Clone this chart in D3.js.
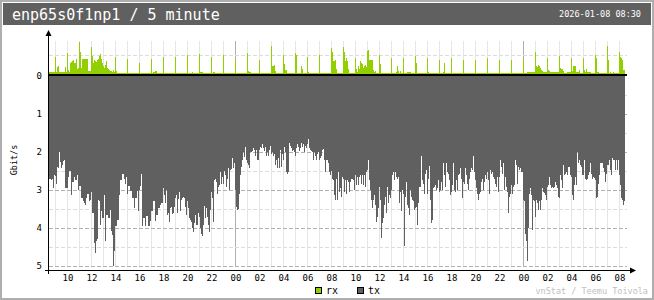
<!DOCTYPE html>
<html>
<head>
<meta charset="utf-8">
<script src="https://cdn.jsdelivr.net/npm/d3@7"></script>
<style>
  body { margin: 0; background: #fff; }
  svg { display: block; }
  text { font-family: "DejaVu Sans Mono", monospace; }
</style>
</head>
<body>
<div id="chart"></div>
<script>
// ---- data ----
const ifaceName = "enp65s0f1np1";
const graphName = "5 minute";
const stampText = "2026-01-08 08:30";
const footerText = "vnStat / Teemu Toivola";
const unitLabel = "Gbit/s";
const legendKeys = ["rx", "tx"];
const yTickValues = [0, 1, 2, 3, 4, 5];
const firstSlot = new Date(2026, 0, 6, 8, 30);   // one row below = one hour of 5 min slots
const slotMinutes = 5;

// rx, Gbit/s (drawn upward)
const rx = [
  .05,.05,.05,.05,.05,.05,.45,.05,.18,.2,.05,.06,
  .05,.05,.05,.05,.19,.05,.54,.1,.05,.3,.32,.34,
  .37,.28,.3,.39,.13,.15,.83,.59,.15,.39,.4,.4,
  .4,.4,.4,.07,.07,.07,.7,.48,.28,.37,.34,.32,
  .37,.4,.48,.53,.39,.3,.21,.15,.24,.34,.15,.12,
  .1,.08,.07,.05,.1,.05,.45,.08,.03,.03,.03,.015,
  .015,.015,.015,.015,.015,.015,.39,.015,.015,.015,.015,.03,
  .03,.03,.015,.015,.015,.015,.28,.015,.015,.015,.015,.015,
  .015,.015,.015,.015,.015,.015,.39,.015,.05,.05,.07,.07,
  .015,.015,.015,.015,.015,.015,.45,.015,.015,.015,.015,.015,
  .015,.03,.03,.03,.03,.015,.45,.015,.015,.015,.015,.015,
  .015,.015,.015,.015,.015,.015,.5,.03,.015,.015,.015,.05,
  .015,.015,.015,.015,.015,.015,.53,.05,.05,.05,.015,.015,
  .015,.015,.015,.015,.015,.015,.44,.03,.05,.05,.015,.015,
  .015,.03,.015,.015,.015,.015,.5,.03,.015,.015,.015,.015,
  .015,.015,.015,.015,.015,.015,.38,.03,.015,.015,.015,.015,
  .015,.015,.015,.015,.015,.015,.54,.08,.05,.06,.015,.015,
  .015,.015,.015,.015,.015,.015,.38,.03,.015,.015,.03,.015,
  .015,.015,.015,.015,.015,.015,.73,.2,.2,.24,.07,.015,
  .015,.015,.015,.015,.015,.015,.5,.27,.1,.1,.015,.015,
  .015,.015,.015,.015,.015,.015,.54,.51,.015,.015,.015,.015,
  .22,.13,.015,.015,.015,.015,.45,.05,.015,.015,.015,.015,
  .015,.015,.015,.015,.015,.015,.5,.015,.015,.03,.03,.015,
  .015,.015,.015,.015,.015,.015,.68,.57,.35,.34,.36,.12,
  .015,.015,.015,.015,.015,.015,.7,.59,.34,.41,.34,.12,
  .015,.015,.015,.015,.015,.015,.41,.12,.05,.2,.12,.34,
  .28,.27,.16,.2,.24,.18,.6,.62,.38,.38,.38,.38,
  .1,.05,.08,.03,.03,.03,.51,.27,.03,.03,.03,.03,
  .03,.03,.03,.03,.03,.03,.41,.015,.015,.015,.015,.06,
  .2,.08,.03,.08,.015,.015,.41,.015,.015,.015,.05,.05,
  .05,.05,.015,.015,.015,.015,.48,.3,.015,.015,.015,.015,
  .015,.015,.015,.015,.015,.015,.41,.05,.015,.015,.015,.015,
  .015,.015,.015,.015,.015,.015,.38,.015,.015,.015,.05,.28,
  .03,.03,.015,.015,.015,.015,.41,.015,.015,.015,.015,.015,
  .015,.015,.015,.015,.015,.015,.38,.015,.015,.015,.015,.015,
  .015,.03,.015,.015,.015,.015,.38,.03,.03,.03,.03,.03,
  .03,.03,.015,.015,.015,.015,.41,.015,.015,.015,.015,.015,
  .015,.015,.015,.015,.015,.015,.38,.03,.03,.015,.015,.015,
  .015,.015,.015,.015,.015,.015,.38,.03,.03,.03,.015,.015,
  .015,.015,.015,.015,.015,.015,.41,.015,.015,.015,.05,.05,
  .05,.05,.05,.05,.05,.05,.57,.2,.18,.24,.22,.15,
  .1,.08,.05,.05,.05,.05,.41,.1,.08,.05,.05,.05,
  .05,.05,.05,.05,.05,.05,.47,.15,.13,.12,.08,.015,
  .015,.015,.05,.05,.05,.05,.41,.08,.21,.21,.21,.05,
  .05,.05,.1,.015,.015,.015,.42,.1,.05,.12,.05,.05,
  .05,.05,.015,.015,.015,.015,.51,.42,.05,.05,.03,.03,
  .015,.015,.015,.015,.015,.015,.73,.36,.015,.05,.015,.015,
  .05,.03,.03,.03,.03,.03,.57,.45,.42,.37,.11,.11
];

// tx, Gbit/s (drawn downward)
const tx = [
  2.72,2.70,2.74,2.72,2.96,2.6,2.62,2.83,2.4,2.42,2.0,2.25,
  2.43,2.35,2.23,2.2,2.96,2.96,2.96,2.65,2.5,2.5,3.13,2.78,
  2.78,2.65,2.74,2.74,2.6,3.0,2.9,2.9,3.2,3.2,3.3,3.35,
  3.4,3.2,3.1,3.1,3.3,3.25,3.05,3.6,3.6,4.4,4.66,4.35,
  4.3,3.26,3.3,3.92,3.56,3.74,3.74,3.13,4.35,3.66,3.66,3.74,
  3.74,3.53,4.08,4.18,5.0,4.6,3.95,3.95,3.79,3.79,3.13,2.74,
  2.74,2.57,2.57,2.7,2.83,2.65,3.1,2.9,2.9,3.03,3.03,3.2,
  3.2,3.48,3.2,3.2,3.03,3.56,3.0,2.9,2.57,3.95,3.74,3.74,
  3.95,3.69,3.69,3.95,3.95,3.82,3.56,3.56,3.3,3.3,3.82,3.66,
  3.66,3.48,3.48,3.4,3.35,3.35,2.94,3.13,3.35,3.0,3.66,3.6,
  3.85,3.48,3.45,3.62,3.6,3.44,3.22,3.12,3.6,3.24,3.05,3.56,
  3.26,3.22,3.18,3.22,3.44,3.66,3.3,3.48,3.74,3.79,3.83,4.0,
  4.1,3.88,3.66,3.92,3.92,3.6,3.7,4.0,4.16,4.2,3.92,3.42,
  3.73,3.48,3.7,3.92,4.1,3.52,3.05,3.22,3.83,2.74,2.7,2.78,
  3.1,2.92,2.87,2.52,2.83,2.65,2.83,2.5,2.6,2.92,2.7,2.43,
  3.0,2.48,2.45,2.15,2.43,2.3,3.0,3.45,3.52,3.5,3.1,2.6,
  2.4,2.2,2.0,2.13,1.87,2.22,2.3,2.35,2.43,2.0,2.0,1.98,
  1.9,1.94,2.1,1.94,2.2,2.22,1.94,1.87,1.9,1.79,1.9,1.98,
  1.87,2.1,2.0,2.1,1.94,1.83,2.05,2.0,2.1,2.05,2.35,2.2,
  2.43,2.15,2.43,1.94,2.4,2.05,2.22,1.88,2.0,2.52,2.57,2.52,
  1.76,1.83,1.9,1.98,1.94,2.0,2.1,1.9,1.79,1.87,1.98,1.9,
  1.75,1.87,1.79,2.0,1.83,1.9,1.8,1.65,1.9,1.96,1.98,2.0,
  2.2,2.0,2.1,2.22,2.05,2.0,2.22,2.15,2.1,1.94,1.92,2.22,
  2.52,2.2,2.22,2.3,2.52,2.6,2.5,2.7,2.74,3.13,3.26,2.7,
  3.26,2.52,3.05,2.96,3.18,2.65,2.7,3.05,2.74,3.1,2.74,2.78,
  3.05,2.78,2.7,2.7,2.74,3.0,2.6,2.87,2.65,2.87,2.65,2.6,
  2.83,2.6,2.87,2.6,2.92,2.52,2.48,2.2,2.74,3.0,3.26,3.48,
  3.26,3.13,3.4,3.83,3.7,3.48,2.92,3.26,4.27,3.88,3.74,3.4,
  3.18,3.6,2.92,3.35,3.13,3.22,3.0,2.6,2.52,2.74,2.52,2.65,
  2.7,2.65,3.35,3.05,3.56,3.0,3.1,4.48,3.18,2.78,3.4,3.48,
  3.66,3.0,3.18,3.26,3.3,3.52,3.48,3.44,3.92,3.35,2.92,2.92,
  2.1,2.74,2.83,3.1,2.57,2.47,3.1,2.7,2.37,3.26,3.88,3.79,
  2.96,2.92,2.87,3.0,2.96,2.74,3.05,3.0,2.78,3.0,2.3,2.6,
  2.92,2.3,2.52,2.57,2.74,3.13,3.05,2.87,2.3,3.0,3.05,2.74,
  3.0,2.6,2.57,2.43,2.7,3.22,2.78,2.83,2.43,2.6,2.83,3.0,
  2.7,2.52,2.43,2.48,2.1,2.52,2.74,2.96,3.1,3.26,3.1,3.05,
  2.78,2.7,3.0,2.78,2.6,2.7,2.52,2.74,3.1,2.48,2.57,2.52,
  2.65,2.7,2.83,2.92,2.65,3.05,2.65,2.2,2.4,2.57,2.3,3.0,
  2.65,2.92,3.05,3.6,3.18,3.1,2.87,3.1,2.92,2.87,2.22,2.35,
  2.83,2.4,2.48,2.43,2.52,2.52,3.26,3.3,4.16,4.35,4.86,4.0,
  3.1,2.96,3.13,4.04,3.26,3.3,3.7,3.26,3.35,3.52,3.3,3.52,
  3.26,2.94,3.05,3.07,3.13,3.26,2.92,2.87,2.65,2.87,2.94,2.92,
  2.94,2.92,2.78,2.87,2.96,3.18,3.22,2.6,2.74,2.96,2.35,2.6,
  2.57,2.52,2.6,2.4,2.4,2.6,2.65,3.13,3.26,2.87,2.65,2.87,
  2.0,2.3,2.2,2.35,2.4,2.6,2.6,2.2,2.7,2.74,2.7,2.6,
  2.52,2.3,2.57,2.7,2.65,2.68,2.74,3.22,3.18,2.83,2.6,2.3,
  2.28,2.3,2.43,2.52,2.78,2.57,2.35,2.35,2.2,2.48,2.6,2.15,
  2.2,2.2,2.48,2.22,2.48,2.2,2.6,2.87,3.22,3.26,3.4,3.3
];

// ---- colours (vnstati defaults) ----
const C = {
  bg: "#ffffff", edge: "#aeaeae", header: "#606060", headText: "#ffffff",
  text: "#000000", line: "#b0b0b0", lineLight: "#dcdcdc", hourLine: "#e6e6e6",
  rx: "#92cf00", tx: "#606060"
};

const W = 654, H = 300;
const svg = d3.select("#chart").append("svg")
  .attr("width", W).attr("height", H)
  .attr("shape-rendering", "crispEdges");

// frame + header
svg.append("rect").attr("width", W).attr("height", H).attr("fill", C.edge);
svg.append("rect").attr("x", 2).attr("y", 2).attr("width", W - 4).attr("height", H - 4).attr("fill", C.bg);
svg.append("rect").attr("x", 3).attr("y", 3).attr("width", W - 6).attr("height", 22).attr("fill", C.header);

svg.append("text").attr("x", 12).attr("y", 20)
  .attr("fill", C.headText).attr("font-size", 15)
  .text(ifaceName + " / " + graphName);
svg.append("text").attr("x", 641).attr("y", 17).attr("text-anchor", "end")
  .attr("fill", C.headText).attr("font-size", 8.5)
  .text(stampText);

// ---- scales ----
const slots = rx.map((d, i) => d3.timeMinute.offset(firstSlot, i * slotMinutes));
const lastSlot = d3.timeMinute.offset(firstSlot, rx.length * slotMinutes);
const x = d3.scaleTime().domain([firstSlot, lastSlot]).range([49, 49 + rx.length]);
const yTx = d3.scaleLinear().domain([0, 5]).range([76, 266]);
const yRx = d3.scaleLinear().domain([0, 1]).range([74, 36]);
const plotTop = 41, plotBottom = 267, plotRight = 627;

const grid = svg.append("g");

// hourly vertical lines
const hours = d3.timeHour.range(firstSlot, lastSlot);
grid.selectAll("line.hour").data(hours).enter().append("line")
  .attr("x1", d => Math.round(x(d)) + 0.5).attr("x2", d => Math.round(x(d)) + 0.5)
  .attr("y1", plotTop).attr("y2", plotBottom)
  .attr("stroke", d => d.getHours() === 0 ? C.line : C.hourLine);

// horizontal dashed lines, every 0.5
const txLevels = d3.range(1, 11).map(k => k / 2);
grid.selectAll("line.tx").data(txLevels).enter().append("line")
  .attr("x1", 49).attr("x2", plotRight)
  .attr("y1", d => Math.round(yTx(d)) + 0.5).attr("y2", d => Math.round(yTx(d)) + 0.5)
  .attr("stroke", d => d % 1 === 0 ? C.line : C.lineLight)
  .attr("stroke-dasharray", "4,2");
grid.append("line")
  .attr("x1", 49).attr("x2", plotRight)
  .attr("y1", Math.round(yRx(0.5)) + 0.5).attr("y2", Math.round(yRx(0.5)) + 0.5)
  .attr("stroke", C.lineLight).attr("stroke-dasharray", "4,2");

// ---- bars ----
svg.append("g").selectAll("rect").data(tx).enter().append("rect")
  .attr("x", (d, i) => Math.round(x(slots[i])))
  .attr("width", 1)
  .attr("y", yTx(0))
  .attr("height", d => Math.round(yTx(d)) - yTx(0))
  .attr("fill", C.tx);

svg.append("g").selectAll("rect").data(rx).enter().append("rect")
  .attr("x", (d, i) => Math.round(x(slots[i])))
  .attr("width", 1)
  .attr("y", d => Math.round(yRx(d)))
  .attr("height", d => yRx(0) - Math.round(yRx(d)))
  .attr("fill", C.rx);

// ---- axes ----
const axes = svg.append("g").attr("stroke", C.text);
axes.append("line").attr("x1", 48).attr("x2", plotRight).attr("y1", 74.5).attr("y2", 74.5);
axes.append("line").attr("x1", 48).attr("x2", plotRight).attr("y1", 75.5).attr("y2", 75.5);
axes.append("line").attr("x1", 48.5).attr("x2", 48.5).attr("y1", 33).attr("y2", 274);
axes.append("line").attr("x1", 45).attr("x2", 632).attr("y1", 270.5).attr("y2", 270.5);
svg.append("path").attr("d", "M45.5,36 L48.5,30 L51.5,36 Z").attr("fill", C.text).attr("shape-rendering", "auto");
svg.append("path").attr("d", "M630,267.5 L636,270.5 L630,273.5 Z").attr("fill", C.text).attr("shape-rendering", "auto");

// y labels
svg.append("g").selectAll("text").data(yTickValues).enter().append("text")
  .attr("x", 42).attr("y", d => yTx(d) + 3).attr("text-anchor", "end")
  .attr("font-size", 9).attr("fill", C.text)
  .text(d => d);

svg.append("text")
  .attr("transform", "translate(17,160) rotate(-90)")
  .attr("text-anchor", "middle").attr("font-size", 8.5).attr("fill", C.text)
  .text(unitLabel);

// x axis labels every second hour
const xAxis = d3.axisBottom(x)
  .ticks(d3.timeHour.every(2))
  .tickFormat(d3.timeFormat("%H"))
  .tickSize(0).tickPadding(0);
const gx = svg.append("g").attr("transform", "translate(0.5,281)").call(xAxis);
gx.select(".domain").remove();
gx.selectAll("text").attr("font-size", 9).attr("fill", C.text)
  .attr("font-family", "DejaVu Sans Mono").attr("dy", 0);

// legend
const lg = svg.append("g").selectAll("g").data(legendKeys).enter().append("g")
  .attr("transform", (d, i) => "translate(" + (315 + i * 42) + ",287)");
lg.append("rect").attr("x", 0.5).attr("y", 0.5).attr("width", 6).attr("height", 6)
  .attr("fill", d => d === "rx" ? C.rx : C.tx).attr("stroke", C.text);
lg.append("text").attr("x", 11).attr("y", 7).attr("font-size", 10).attr("fill", C.text)
  .text(d => d);

// footer
svg.append("text").attr("x", 648).attr("y", 294).attr("text-anchor", "end")
  .attr("font-size", 8.5).attr("fill", "#c0c0c0")
  .text(footerText);
</script>
</body>
</html>
